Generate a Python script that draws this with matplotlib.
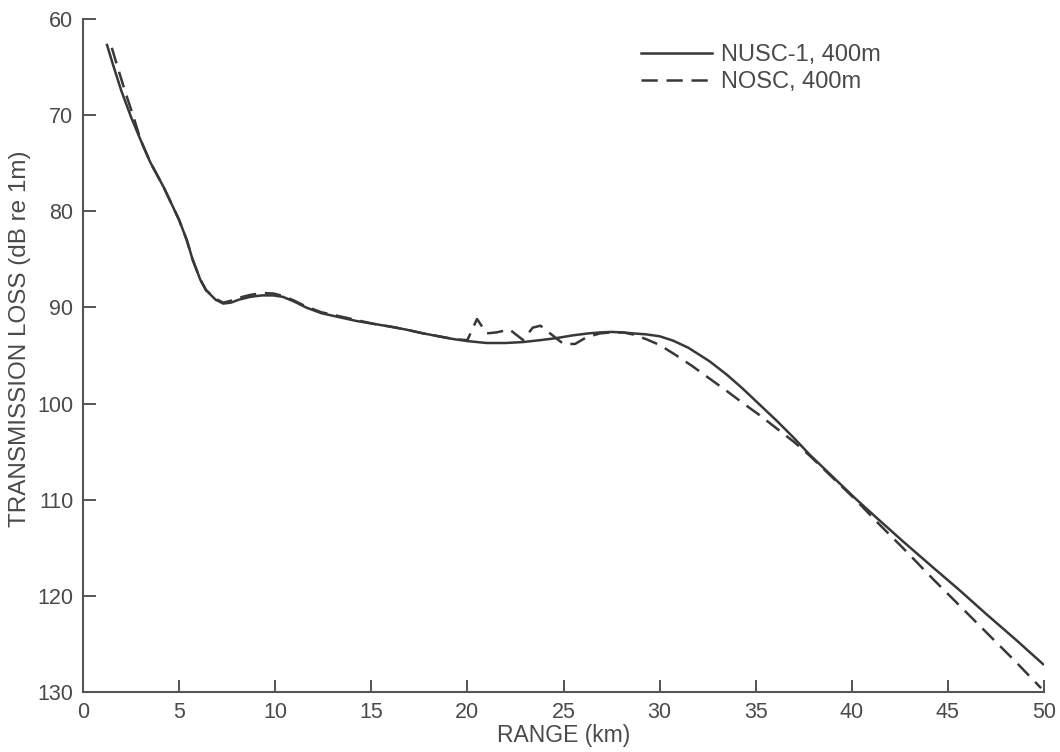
#Transmission loss vs range, NUSC-1 vs NOSC at 400m.

import matplotlib
matplotlib.use("Agg")
import matplotlib.pyplot as plt

# curve values (range km, loss dB)
nusc_range = [1.25, 1.6, 2.0, 2.5, 3.0, 3.5, 4.2, 5.0, 5.4, 5.7, 6.1, 6.4, 6.9, 7.3,
              7.7, 8.1, 8.7, 9.3, 9.9, 10.4, 11.0, 11.6, 12.4, 13.3, 14.2, 15.1,
              16.0, 16.8, 17.7, 18.5, 19.3, 20.0, 21.0, 22.0, 22.9, 23.8, 24.6,
              25.5, 26.3, 26.9, 27.5, 28.1, 28.6, 29.3, 30.0, 30.7, 31.5, 32.6,
              33.5, 34.3, 35.2, 36.1, 37.0, 37.8, 39.0, 40.2, 41.3, 42.7, 44.2,
              45.6, 47.0, 48.5, 49.95]
nusc_loss = [62.7, 65.0, 67.5, 70.2, 72.6, 74.9, 77.5, 80.9, 83.0, 85.0, 87.1, 88.2,
             89.2, 89.6, 89.5, 89.2, 88.9, 88.75, 88.75, 88.9, 89.4, 90.0, 90.6,
             91.0, 91.4, 91.7, 92.0, 92.3, 92.7, 93.0, 93.3, 93.5, 93.7, 93.7,
             93.6, 93.4, 93.2, 92.9, 92.7, 92.6, 92.55, 92.6, 92.7, 92.8, 93.0,
             93.45, 94.2, 95.6, 97.0, 98.4, 100.1, 101.8, 103.6, 105.3, 107.6,
             109.9, 111.9, 114.4, 117.0, 119.4, 121.9, 124.5, 127.1]

nosc_range = [1.5, 1.8, 2.2, 2.6, 3.0, 3.5, 4.2, 5.0, 5.4, 5.7, 6.1, 6.4, 6.9, 7.3,
              7.7, 8.1, 8.7, 9.3, 9.9, 10.4, 11.0, 11.6, 12.4, 13.3, 14.2, 15.1,
              16.0, 16.8, 17.7, 18.5, 19.3, 20.0, 20.5, 21.0, 21.5, 22.2, 22.9,
              23.4, 23.8, 24.3, 25.0, 25.6, 26.2, 26.9, 27.5, 28.1, 28.6, 29.3,
              30.0, 30.8, 31.7, 32.6, 33.5, 34.3, 35.2, 36.1, 37.0, 37.8, 39.0,
              40.2, 41.3, 42.7, 44.2, 45.6, 47.0, 48.5, 49.85]
nosc_loss = [63.0, 65.0, 67.6, 70.0, 72.6, 74.9, 77.5, 80.9, 83.0, 85.0, 87.1, 88.2,
             89.1, 89.5, 89.3, 89.0, 88.7, 88.5, 88.55, 88.8, 89.3, 89.9, 90.5,
             90.9, 91.3, 91.7, 92.0, 92.3, 92.7, 93.0, 93.3, 93.4, 91.2, 92.7,
             92.6, 92.3, 93.4, 92.1, 91.9, 92.7, 93.8, 93.8, 93.1, 92.7, 92.6,
             92.6, 92.8, 93.3, 93.9, 94.9, 96.1, 97.4, 98.7, 99.9, 101.2, 102.6,
             104.0, 105.4, 107.7, 110.0, 112.3, 115.1, 118.2, 121.0, 123.8,
             126.8, 129.6]

x_ticks = list(range(0, 51, 5))
y_ticks = list(range(60, 131, 10))

plt.rcParams['font.family'] = ['Liberation Sans', 'DejaVu Sans']

fig = plt.figure(figsize=(10.6, 7.52), dpi=100, facecolor='white')
ax = fig.add_axes([83/1060, 1 - 692/752, (1044 - 83)/1060, (692 - 19)/752])

line_col = '#383838'
text_col = '#4a4a4a'

ax.plot(nusc_range, nusc_loss, color=line_col, lw=1.8, label='NUSC-1, 400m')
ax.plot(nosc_range, nosc_loss, color=line_col, lw=1.8, dashes=(6.5, 3.5),
        label='NOSC, 400m')

ax.set_xlim(0, 50)
ax.set_ylim(130, 60)
ax.set_xticks(x_ticks)
ax.set_yticks(y_ticks)

for s in ['top', 'right']:
    ax.spines[s].set_visible(False)
for s in ['left', 'bottom']:
    ax.spines[s].set_color('#555555')
    ax.spines[s].set_linewidth(1.5)

ax.tick_params(direction='in', length=9, width=1.4, color='#555555',
               labelsize=15.5, labelcolor=text_col, pad=7)

ax.set_xlabel('RANGE (km)', fontsize=16.5, color=text_col, labelpad=1)
ax.set_ylabel('TRANSMISSION LOSS (dB re 1m)', fontsize=17.5, color=text_col)
ax.yaxis.set_label_coords(-0.054, 0.525)

leg = ax.legend(loc='upper left', bbox_to_anchor=(641/1060, 1 - 44/752),
                bbox_transform=fig.transFigure, frameon=False, fontsize=17,
                handlelength=3.0, handletextpad=0.4, labelspacing=0.22,
                borderpad=0, borderaxespad=0)
for t in leg.get_texts():
    t.set_color(text_col)

plt.savefig('out.png', dpi=100, facecolor='white')
